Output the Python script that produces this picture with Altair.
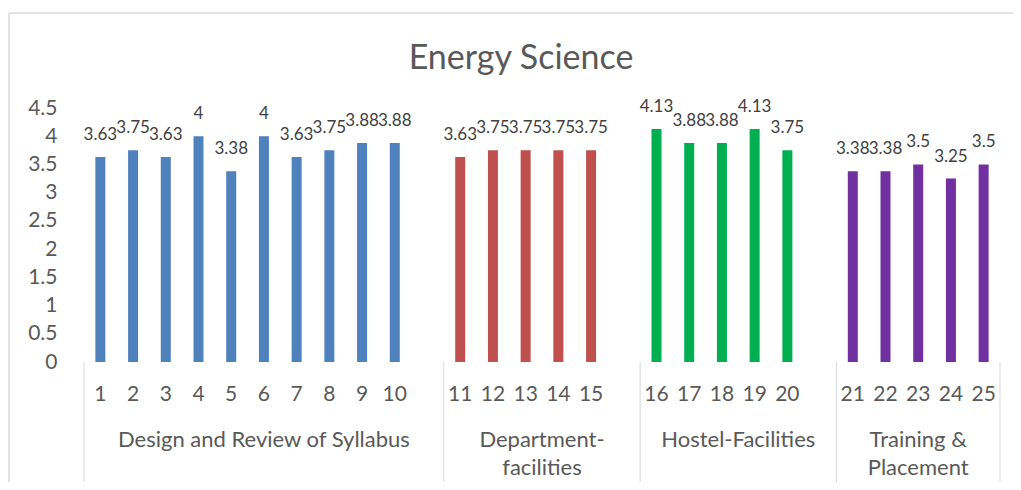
import altair as alt
import pandas as pd

FONT = "Lato"

groups = ["Design and Review of Syllabus", "Department-\nfacilities",
          "Hostel-Facilities", "Training &\nPlacement"]
group_colors = ["#4F81BD", "#C0504D", "#00B050", "#7030A0"]

syllabus_items = ["1", "2", "3", "4", "5", "6", "7", "8", "9", "10"]
syllabus_values = [3.63, 3.75, 3.63, 4, 3.38, 4, 3.63, 3.75, 3.88, 3.88]

department_items = ["11", "12", "13", "14", "15"]
department_values = [3.63, 3.75, 3.75, 3.75, 3.75]

hostel_items = ["16", "17", "18", "19", "20"]
hostel_values = [4.13, 3.88, 3.88, 4.13, 3.75]

training_items = ["21", "22", "23", "24", "25"]
training_values = [3.38, 3.38, 3.5, 3.25, 3.5]

y_ticks = [0, 0.5, 1, 1.5, 2, 2.5, 3, 3.5, 4, 4.5]
title_text = "Energy Science"

all_items = [syllabus_items, department_items, hostel_items, training_items]
all_values = [syllabus_values, department_values, hostel_values, training_values]

# Build table: each group occupies its categories plus one blank slot (Excel gap)
rows, grows, bounds = [], [], []
slot = 0
for gi, (g, its, vals) in enumerate(zip(groups, all_items, all_values)):
    start = slot
    bounds.append({"b": start})
    for it, v in zip(its, vals):
        rows.append({"group": g, "item": it, "value": v, "slot": slot})
        slot += 1
    if gi < len(groups) - 1:
        slot += 1
    grows.append({"label": g, "start": start, "end": slot})
bounds.append({"b": slot})
n_slots = slot

df = pd.DataFrame(rows)
gdf = pd.DataFrame(grows)
bdf = pd.DataFrame(bounds)
tdf = pd.DataFrame({"title": [title_text]})

W, H = 926, 254
xscale = alt.Scale(domain=[0, n_slots], nice=False, zero=False)
yscale = alt.Scale(domain=[0, 4.5], nice=False)

x_enc = alt.X("pos:Q", scale=xscale,
              axis=alt.Axis(labels=False, ticks=False, grid=False, title=None,
                            domainColor="#D9D9D9", domainWidth=1))
y_enc = alt.Y("value:Q", scale=yscale,
              axis=alt.Axis(values=y_ticks, labelOverlap=False, tickCount=10,
                            format=".1~f", grid=False, ticks=False, domain=False,
                            title=None, labelFont=FONT, labelFontSize=21,
                            labelColor="#595959", labelPadding=22))

base = alt.Chart(df).transform_calculate(pos="datum.slot + 0.5")

bars = base.mark_bar(size=10).encode(
    x=x_enc,
    y=y_enc,
    color=alt.Color("group:N", scale=alt.Scale(domain=groups, range=group_colors),
                    legend=None),
)

value_labels = base.mark_text(dy=-22, fontSize=17, font=FONT, color="#404040",
                              baseline="middle").encode(
    x=x_enc,
    y=y_enc,
    text=alt.Text("value:Q", format=".2~f"),
)

tick_labels = base.mark_text(fontSize=21, font=FONT, color="#595959",
                             baseline="middle").encode(
    x=x_enc,
    y=alt.value(H + 33),
    text="item:N",
)

group_labels = alt.Chart(gdf).transform_calculate(
    mid="(datum.start + datum.end) / 2"
).mark_text(fontSize=22, font=FONT, color="#595959", baseline="top",
            lineBreak="\n", lineHeight=28).encode(
    x=alt.X("mid:Q", scale=xscale, axis=None),
    y=alt.value(H + 68),
    text="label:N",
)

separators = alt.Chart(bdf).mark_rule(color="#D9D9D9", strokeWidth=1).encode(
    x=alt.X("b:Q", scale=xscale, axis=None),
    y=alt.value(H),
    y2=alt.value(H + 123),
)

title = alt.Chart(tdf).mark_text(fontSize=34, font=FONT, color="#595959",
                                 baseline="middle", align="center").encode(
    x=alt.value(W / 2 - 21), y=alt.value(-49), text="title:N"
)

frame_v = alt.Chart(tdf).mark_rule(color="#D9D9D9", strokeWidth=1.5).encode(
    x=alt.value(-70), y=alt.value(-95), y2=alt.value(H + 140)
)
frame_h = alt.Chart(tdf).mark_rule(color="#D9D9D9", strokeWidth=1.5).encode(
    y=alt.value(-95), x=alt.value(-70), x2=alt.value(W + 40)
)

chart = alt.layer(
    bars, frame_v, frame_h, separators, value_labels, tick_labels, group_labels, title
).properties(
    width=W, height=H,
    padding={"left": 71, "top": 100, "right": 8, "bottom": 120},
    autosize=alt.AutoSizeParams(type="none"),
).configure_view(stroke=None)

chart.save("out.html", embed_options={"renderer": "svg", "actions": False})
